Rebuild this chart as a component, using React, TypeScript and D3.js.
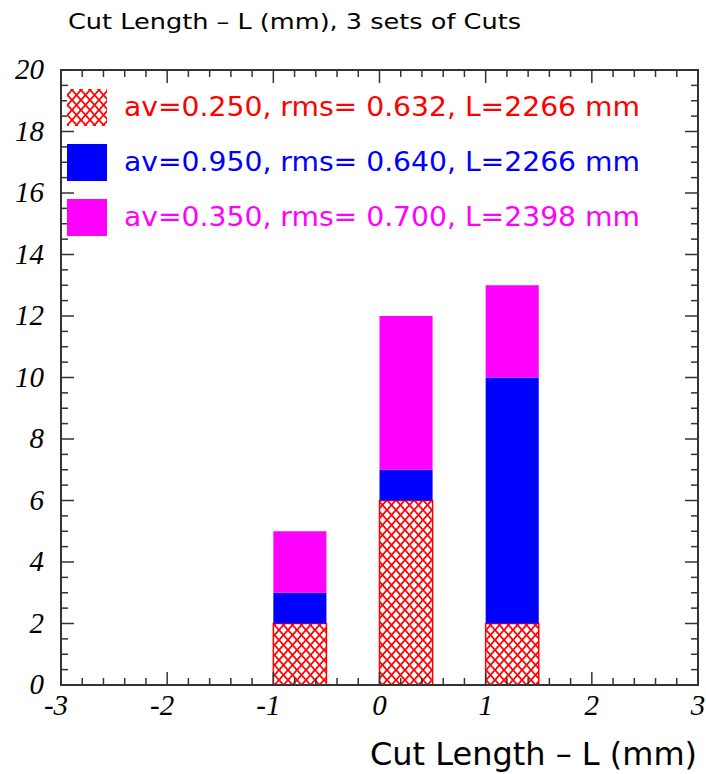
import React from "react";
import * as d3 from "d3";

const binStarts = [-1, 0, 1];
const binWidth = 0.5;
const redValues = [2, 6, 2];
const blueValues = [1, 1, 8];
const magentaValues = [2, 5, 3];
const seriesNames = [
  "av=0.250, rms= 0.632, L=2266 mm",
  "av=0.950, rms= 0.640, L=2266 mm",
  "av=0.350, rms= 0.700, L=2398 mm",
];
const seriesColors = ["#ff0000", "#0000ff", "#ff00ff"];
const xTickValues = [-3, -2, -1, 0, 1, 2, 3];
const yTickValues = [0, 2, 4, 6, 8, 10, 12, 14, 16, 18, 20];
const title = "Cut Length – L (mm), 3 sets of Cuts";
const xTitle = "Cut Length – L (mm)";

const W = 706, H = 774;
const L = 61, R = 698, T = 70, B = 685;

export default function App() {
  const x = d3.scaleLinear().domain([-3, 3]).range([L, R]);
  const y = d3.scaleLinear().domain([0, 20]).range([B, T]);
  const xMinor = d3.range(-3, 3.0001, 0.2);
  const yMinor = d3.range(0, 20.0001, 0.5);
  const stacks = [redValues, blueValues, magentaValues];
  const axisColor = "#333";
  const rects: any[] = [];
  binStarts.forEach((b, i) => {
    let base = 0;
    stacks.forEach((vals, s) => {
      const v = vals[i];
      rects.push({ s, x0: b, x1: b + binWidth, y0: base, y1: base + v });
      base += v;
    });
  });
  const fills = ["url(#hatch)", "#0000ff", "#ff00ff"];
  const legendY = [107, 162, 217];
  return (
    <svg width={W} height={H} style={{ position: "absolute", left: 0, top: 0, background: "#fff" }}>
      <defs>
        <pattern id="hatch" width="9" height="10" patternUnits="userSpaceOnUse">
          <rect width="9" height="10" fill="#fff" />
          <path d="M0,0 L9,10 M9,0 L0,10" stroke="#ff0000" strokeWidth="1.8" fill="none" />
          <path d="M-4.5,5 L4.5,15 M4.5,-5 L13.5,5 M4.5,15 L13.5,5 M-4.5,5 L4.5,-5" stroke="#ff0000" strokeWidth="1.8" fill="none" />
        </pattern>
      </defs>
      <rect width={W} height={H} fill="#fff" />
      <text x={68} y={29} fontFamily="DejaVu Sans" fontSize={22} textLength={453} lengthAdjust="spacingAndGlyphs" fill="#000">{title}</text>
      {rects.map((r, i) => (
        <rect key={i} x={x(r.x0)} y={y(r.y1)} width={x(r.x1) - x(r.x0)} height={y(r.y0) - y(r.y1)}
          fill={fills[r.s]} stroke={r.s === 0 ? "#ff0000" : "none"} strokeWidth={1.5} />
      ))}
      <rect x={L} y={T} width={R - L} height={B - T} fill="none" stroke={axisColor} strokeWidth={2} />
      {xMinor.map((v, i) => {
        const major = Math.abs(v - Math.round(v)) < 1e-6;
        const len = major ? 13 : 7;
        return (
          <g key={"xt" + i}>
            <line x1={x(v)} x2={x(v)} y1={B} y2={B - len} stroke={axisColor} strokeWidth={1.5} />
            <line x1={x(v)} x2={x(v)} y1={T} y2={T + len} stroke={axisColor} strokeWidth={1.5} />
          </g>
        );
      })}
      {yMinor.map((v, i) => {
        const major = Math.abs(v / 2 - Math.round(v / 2)) < 1e-6;
        const len = major ? 13 : 7;
        return (
          <g key={"yt" + i}>
            <line x1={L} x2={L + len} y1={y(v)} y2={y(v)} stroke={axisColor} strokeWidth={1.5} />
            <line x1={R} x2={R - len} y1={y(v)} y2={y(v)} stroke={axisColor} strokeWidth={1.5} />
          </g>
        );
      })}
      {xTickValues.map((v) => (
        <text key={"xl" + v} x={x(v) - (v < 0 ? 5 : 0)} y={715} textAnchor="middle" fontFamily="Liberation Serif" fontStyle="italic" fontSize={29} fill="#000">{v}</text>
      ))}
      {yTickValues.map((v) => (
        <text key={"yl" + v} x={44} y={y(v) + 9} textAnchor="end" fontFamily="Liberation Serif" fontStyle="italic" fontSize={29} fill="#000">{v}</text>
      ))}
      <text x={697} y={765} textAnchor="end" fontFamily="DejaVu Sans" fontSize={32} textLength={327} lengthAdjust="spacingAndGlyphs" fill="#000">{xTitle}</text>
      {seriesNames.map((name, i) => (
        <g key={"lg" + i}>
          <rect x={67} y={legendY[i] - 18} width={40} height={37} fill={fills[i]} />
          <text x={124} y={legendY[i] + 9} fontFamily="DejaVu Sans" fontSize={27} textLength={516} lengthAdjust="spacingAndGlyphs" fill={seriesColors[i]}>{name}</text>
        </g>
      ))}
    </svg>
  );
}
